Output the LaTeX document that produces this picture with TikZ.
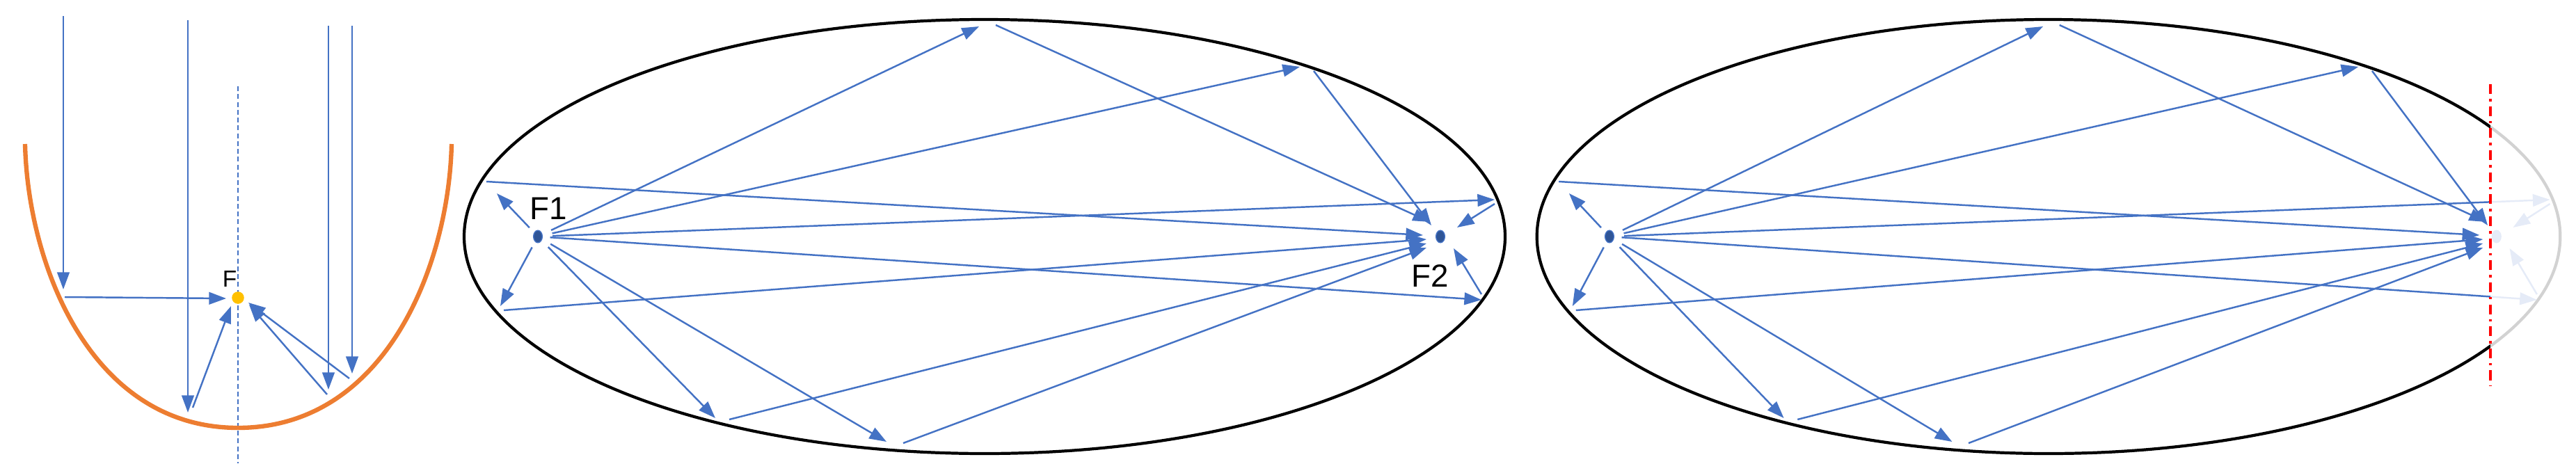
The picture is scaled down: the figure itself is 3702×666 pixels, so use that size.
\documentclass[tikz,border=0pt]{standalone}
\usepackage{fontspec}
\setmainfont{Liberation Sans}
\usetikzlibrary{arrows.meta,shapes.geometric}
\definecolor{rayblue}{HTML}{4472C4}
\definecolor{dotblue}{HTML}{2F5597}
\definecolor{orng}{HTML}{ED7D31}
\definecolor{gold}{HTML}{FFC000}
\tikzset{
  ray/.style={draw=rayblue, line width=0.7pt, -{Triangle[length=7pt,width=5pt]}},
  focdot/.style={ellipse, minimum width=3.6pt, minimum height=5pt, inner sep=0pt, fill=dotblue, draw=rayblue, line width=0.4pt},
  lbl/.style={font=\fontsize{13}{15}\selectfont, inner sep=0pt},
}
\newcommand{\ellrays}{%
  \coordinate (F1) at (-642,340);
  \coordinate (F2) at (655,340);
  \draw[ray, shorten <=6pt] (F1) -- (-8,38);
  \draw[ray] (16,36) -- (640,319);
  \draw[ray, shorten <=6pt] (F1) -- (453,96);
  \draw[ray] (473,102) -- (642,324);
  \draw[ray, shorten <=6pt] (F1) -- (733,287);
  \draw[ray] (733,293) -- (679,327);
  \draw[ray, shorten <=5pt] (F1) -- (-701,278);
  \draw[ray] (-716,261) -- (630,338);
  \draw[ray, shorten <=5pt] (F1) -- (-696,440);
  \draw[ray] (-691,446) -- (635,344);
  \draw[ray, shorten <=5pt] (F1) -- (714,431);
  \draw[ray] (714,423) -- (674,357);
  \draw[ray, shorten <=6pt] (F1) -- (-387,601);
  \draw[ray] (-367,603) -- (635,350);
  \draw[ray, shorten <=6pt] (F1) -- (-141,635);
  \draw[ray] (-117,637) -- (635,356);
}
\begin{document}
\begin{tikzpicture}[x=0.01cm, y=-0.01cm]
\useasboundingbox (0,0) rectangle (3702,666);
% ---------- parabola ----------
\draw[rayblue, line width=0.35pt, dash pattern=on 2pt off 1.2pt] (342,124) -- (342,666);
\draw[orng, line width=1.8pt] (36,207) .. controls (40,380) and (130,615) .. (342,615)
      .. controls (555,615) and (645,380) .. (649,207);
\node[circle, fill=gold, minimum size=5pt, inner sep=0pt] (F) at (342,428) {};
\node[lbl, font=\fontsize{9.5}{11}\selectfont] (Flbl) at (330,401) {F};
\coordinate (p1t) at (91,23);   \coordinate (p1h) at (91,416);
\coordinate (p1s) at (93,427);  \coordinate (p1e) at (325,429);
\coordinate (p2t) at (270,29);  \coordinate (p2h) at (270,593);
\coordinate (p2s) at (277,586); \coordinate (p2e) at (332,440);
\coordinate (p3t) at (472,37);  \coordinate (p3h) at (472,560);
\coordinate (p3s) at (470,567); \coordinate (p3e) at (358,438);
\coordinate (p4t) at (506,37);  \coordinate (p4h) at (506,537);
\coordinate (p4s) at (502,544); \coordinate (p4e) at (357,435);
\foreach \i in {1,2,3,4}{
  \draw[ray] (p\i t) -- (p\i h);
  \draw[ray] (p\i s) -- (p\i e);
}
% ---------- ellipse 1 ----------
\begin{scope}[shift={(1415,0)}]
  \draw[black, line width=1.2pt] (0,340) ellipse [x radius=748, y radius=312];
  \ellrays
  \node[focdot] (f1a) at (F1) {};
  \node[focdot] (f2a) at (F2) {};
  \node[lbl] (F1lbl) at (-627,300) {F1};
  \node[lbl] (F2lbl) at (640,397) {F2};
\end{scope}
% ---------- ellipse 2 ----------
\begin{scope}
  \clip (2150,0) rectangle (3579,666);
  \begin{scope}[shift={(2944,0)}, xscale=0.983]
    \draw[black, line width=1.2pt] (0,340) ellipse [x radius=748, y radius=312];
    \ellrays
    \node[focdot] (f1b) at (F1) {};
    \node[focdot] (f2b) at (F2) {};
  \end{scope}
\end{scope}
\begin{scope}
  \clip (3579,0) rectangle (3702,666);
  \begin{scope}[shift={(2944,0)}, xscale=0.983, ray/.append style={draw=rayblue!14, fill=rayblue!14}]
    \draw[gray!35, line width=1.2pt] (0,340) ellipse [x radius=748, y radius=312];
    \ellrays
    \node[focdot, fill=rayblue!14, draw=rayblue!14] (f2c) at (F2) {};
  \end{scope}
\end{scope}
\coordinate (redtop) at (3579,121);
\coordinate (redbot) at (3579,554);
\draw[red, line width=0.9pt, dash pattern=on 4pt off 2pt on 1pt off 2pt] (redtop) -- (redbot);
\end{tikzpicture}
\end{document}
